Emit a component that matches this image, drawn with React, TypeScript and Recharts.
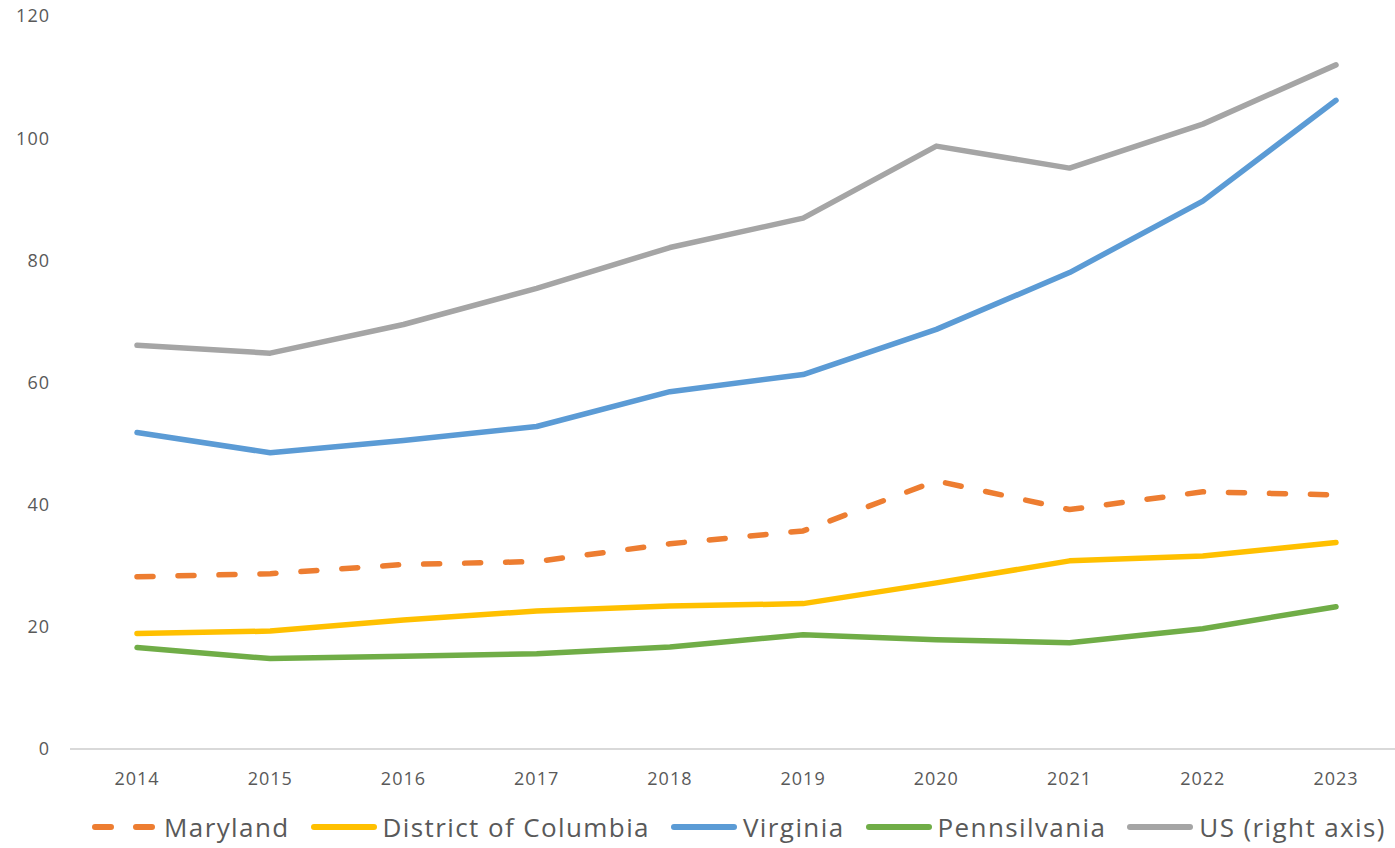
import { CartesianGrid, Legend, Line, LineChart, XAxis, YAxis } from 'recharts';

const years = ['2014', '2015', '2016', '2017', '2018', '2019', '2020', '2021', '2022', '2023'];
const maryland = [28.2, 28.7, 30.2, 30.7, 33.6, 35.7, 43.9, 39.2, 42.1, 41.6];
const dc = [18.9, 19.3, 21.1, 22.6, 23.4, 23.8, 27.2, 30.8, 31.6, 33.8];
const virginia = [51.8, 48.5, 50.5, 52.8, 58.5, 61.3, 68.7, 78.0, 89.7, 106.2];
const pennsilvania = [16.6, 14.8, 15.2, 15.6, 16.7, 18.7, 17.9, 17.4, 19.7, 23.3];
const us = [66.1, 64.8, 69.5, 75.4, 82.1, 86.9, 98.7, 95.1, 102.3, 112.0];
const yTicks = [0, 20, 40, 60, 80, 100, 120];

const data = years.map((year, i) => ({
  year,
  maryland: maryland[i],
  dc: dc[i],
  virginia: virginia[i],
  pennsilvania: pennsilvania[i],
  us: us[i],
}));

const series = [
  { key: 'maryland', name: 'Maryland', color: '#ED7D31', dashed: true, axis: 'left' },
  { key: 'dc', name: 'District of Columbia', color: '#FFC000', dashed: false, axis: 'left' },
  { key: 'virginia', name: 'Virginia', color: '#5B9BD5', dashed: false, axis: 'left' },
  { key: 'pennsilvania', name: 'Pennsilvania', color: '#70AD47', dashed: false, axis: 'left' },
  { key: 'us', name: 'US (right axis)', color: '#A5A5A5', dashed: false, axis: 'right' },
];

const font = '"Open Sans", sans-serif';
const tickStyle = { fontSize: 18, fill: '#595959', fontFamily: font, letterSpacing: 1 };

const LegendContent = () => (
  <div style={{ display: 'flex', alignItems: 'center', paddingLeft: 92, paddingTop: 20, fontFamily: font, fontSize: 26, letterSpacing: 1.4, color: '#595959', whiteSpace: 'nowrap' }}>
    {series.map((s) => (
      <div key={s.key} style={{ display: 'flex', alignItems: 'center', marginRight: 21 }}>
        <svg width={66} height={10} style={{ marginRight: 6 }}>
          <line
            x1={3}
            y1={5}
            x2={63}
            y2={5}
            stroke={s.color}
            strokeWidth={6}
            strokeLinecap="round"
            strokeDasharray={s.dashed ? '16 25' : undefined}
          />
        </svg>
        <span>{s.name}</span>
      </div>
    ))}
  </div>
);

export default function App() {
  return (
    <div style={{ position: 'absolute', left: 0, top: 0, width: 1395, height: 848, overflow: 'hidden', background: '#fff' }}>
      <LineChart width={1403} height={848} data={data} margin={{ top: 16, right: 0, left: 0, bottom: 0 }}>
        <CartesianGrid vertical={false} horizontal={false} />
        <XAxis
          dataKey="year"
          axisLine={{ stroke: '#D9D9D9', strokeWidth: 2 }}
          tickLine={false}
          tickMargin={17}
          height={40}
          padding={{ left: 67, right: 67 }}
          tick={tickStyle}
        />
        <YAxis
          yAxisId="left"
          domain={[0, 120]}
          ticks={yTicks}
          width={70}
          axisLine={false}
          tickLine={false}
          tickMargin={14}
          tick={tickStyle}
        />
        <YAxis yAxisId="right" orientation="right" domain={[0, 120]} hide />
        <Legend verticalAlign="bottom" height={59} content={<LegendContent />} wrapperStyle={{ left: 0, width: 1395 }} />
        {series.map((s) => (
          <Line
            key={s.key}
            yAxisId={s.axis}
            dataKey={s.key}
            name={s.name}
            type="linear"
            stroke={s.color}
            strokeWidth={5.5}
            strokeLinecap="round"
            strokeLinejoin="round"
            strokeDasharray={s.dashed ? '16 25' : undefined}
            dot={false}
            activeDot={false}
            isAnimationActive={false}
          />
        ))}
      </LineChart>
    </div>
  );
}
